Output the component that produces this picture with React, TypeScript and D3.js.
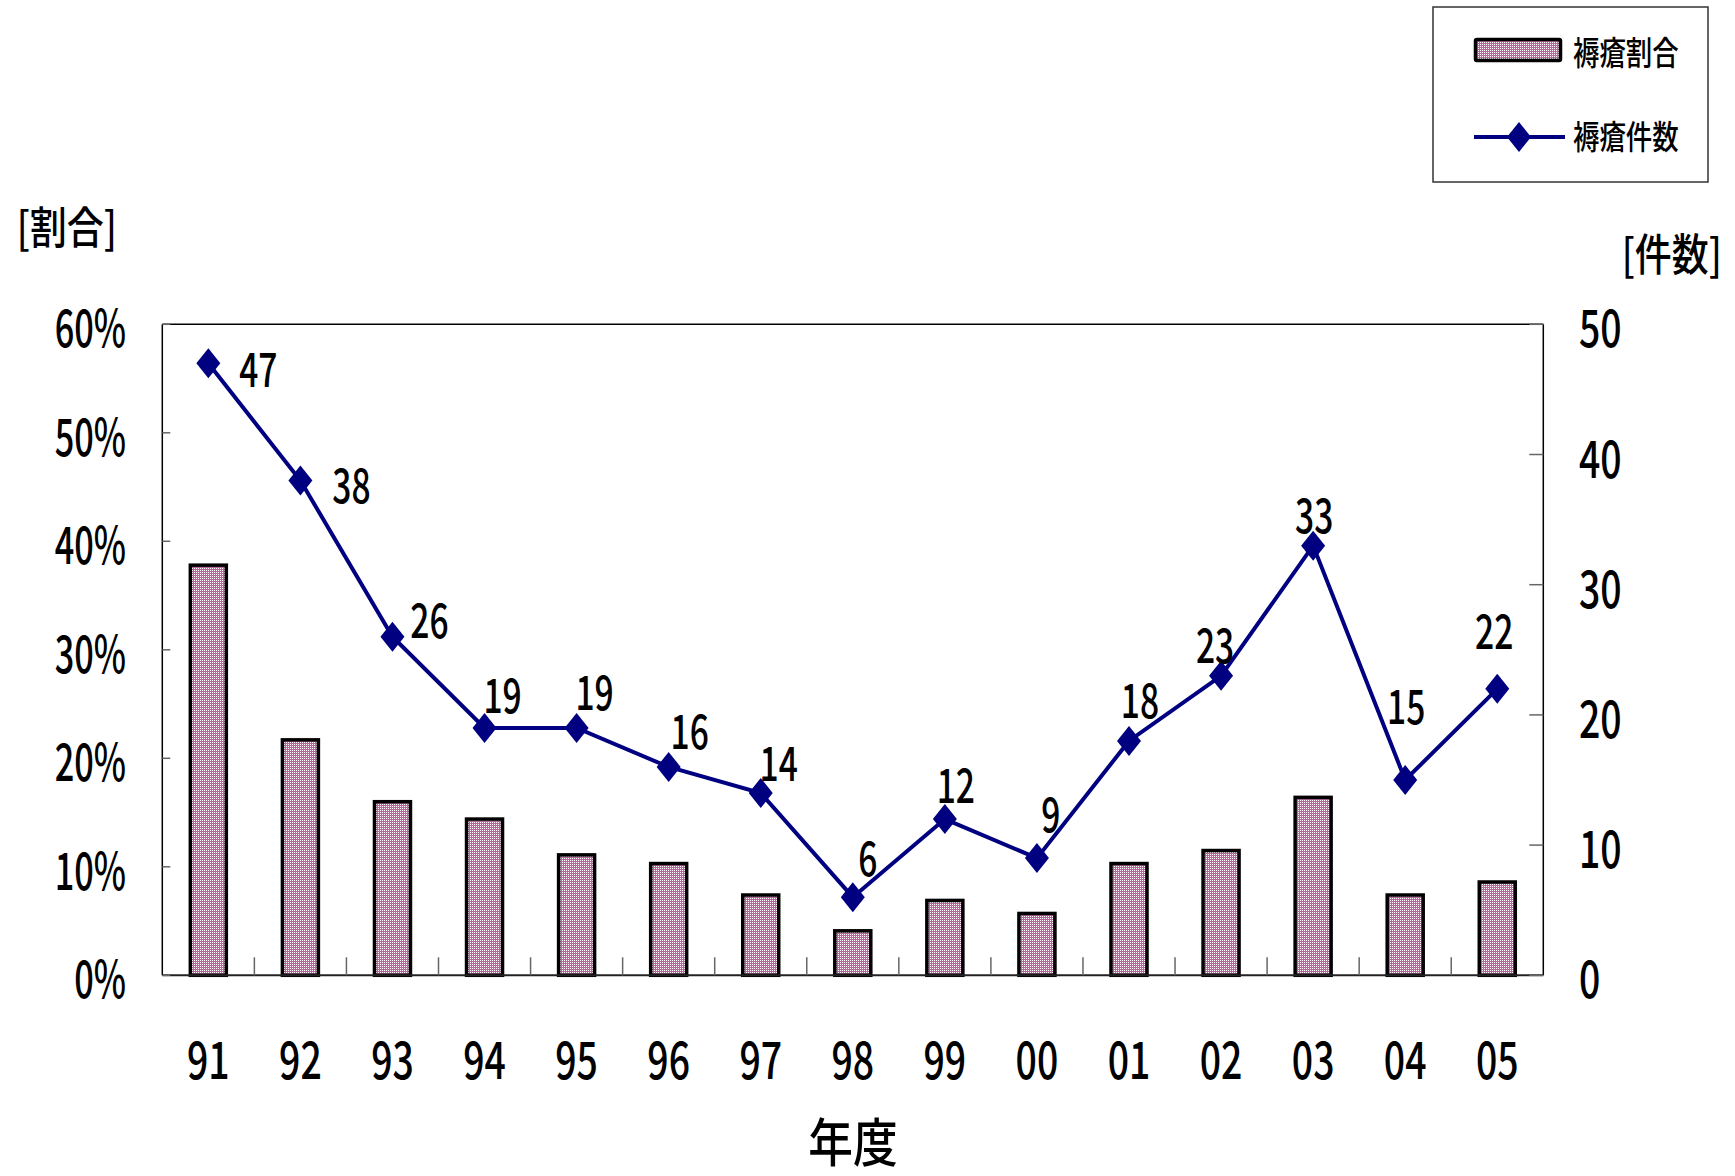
import React from 'react';
import * as d3 from 'd3';

// 年度ごとの褥瘡割合(棒)と褥瘡件数(折れ線)
const years = ['91', '92', '93', '94', '95', '96', '97', '98', '99', '00', '01', '02', '03', '04', '05'];
const ratio = [0.378, 0.217, 0.16, 0.144, 0.111, 0.103, 0.074, 0.041, 0.069, 0.057, 0.103, 0.115, 0.164, 0.074, 0.086];
const counts = [47, 38, 26, 19, 19, 16, 14, 6, 12, 9, 18, 23, 33, 15, 22];
const ratioTicks = [0, 0.1, 0.2, 0.3, 0.4, 0.5, 0.6];
const countTicks = [0, 10, 20, 30, 40, 50];

// label nudges (dx, dy from the marker), as they sit in the original
const labelNudge: [number, number][] = [
  [50, 6], [51, 5], [37, -16], [18, -32], [18, -35], [21, -35], [18, -30], [15, -39],
  [11, -34], [14, -44], [11, -40], [-6, -30], [1, -30], [1, -74], [-3, -57],
];

const W = 1735;
const H = 1176;
const left = 162.3;
const right = 1543.3;
const top = 324.3;
const bottom = 975.3;

const FONT = '"Noto Sans CJK JP", "Noto Sans", sans-serif';
const NAVY = '#000080';

function Txt(props: { x: number; y: number; size: number; sx: number; anchor?: string; children: React.ReactNode }) {
  const { x, y, size, sx, anchor, children } = props;
  return (
    <text
      transform={`translate(${x},${y}) scale(${sx},1)`}
      fontSize={size}
      fontFamily={FONT}
      fontWeight={500}
      textAnchor={anchor || 'start'}
      fill="#000"
    >
      {children}
    </text>
  );
}

const diamond = (cx: number, cy: number) =>
  `M${cx},${cy - 15}L${cx + 12},${cy}L${cx},${cy + 15}L${cx - 12},${cy}Z`;

export default function App() {
  const x = d3.scaleBand().domain(years).range([left, right]);
  const yL = d3.scaleLinear().domain([0, 0.6]).range([bottom, top]);
  const yR = d3.scaleLinear().domain([0, 50]).range([bottom, top]);
  const bw = 36;
  const cx = (d: string) => (x(d) as number) + x.bandwidth() / 2;

  const pts: [number, number][] = years.map((d, i) => [cx(d), yR(counts[i])]);
  const line = d3.line()(pts) as string;

  return (
    <svg width={W} height={H} style={{ position: 'absolute', left: 0, top: 0, background: '#fff' }}>
      <defs>
        <pattern id="dots" width="2" height="2" patternUnits="userSpaceOnUse">
          <rect width="2" height="2" fill="#b36a9b" />
          <rect width="1" height="1" fill="#ffffff" />
        </pattern>
      </defs>
      <rect width={W} height={H} fill="#fff" />

      {/* bars */}
      {years.map((d, i) => (
        <rect
          key={d}
          x={cx(d) - bw / 2}
          y={yL(ratio[i])}
          width={bw}
          height={bottom - yL(ratio[i])}
          fill="url(#dots)"
          stroke="#000"
          strokeWidth={3.5}
        />
      ))}

      {/* frame */}
      <line x1={left} y1={top} x2={right} y2={top} stroke="#000" strokeWidth={1.5} />
      <line x1={right} y1={top} x2={right} y2={bottom} stroke="#000" strokeWidth={1.5} />
      <line x1={left} y1={top} x2={left} y2={bottom} stroke="#000" strokeWidth={1.5} />
      <line x1={left} y1={bottom} x2={right} y2={bottom} stroke="#222" strokeWidth={2} />

      {/* category ticks */}
      {years.slice(1).map((d) => (
        <line key={d} x1={x(d)} x2={x(d)} y1={bottom - 18} y2={bottom} stroke="#666" strokeWidth={1.5} />
      ))}

      {/* left axis */}
      {ratioTicks.map((t) => (
        <g key={t}>
          <line x1={left} x2={left + 8} y1={yL(t)} y2={yL(t)} stroke="#666" strokeWidth={1.5} />
          <Txt x={126} y={yL(t) + 23} size={52} sx={0.66} anchor="end">
            {d3.format('.0%')(t)}
          </Txt>
        </g>
      ))}

      {/* right axis */}
      {countTicks.map((t) => (
        <g key={t}>
          <line x1={right - 14} x2={right} y1={yR(t)} y2={yR(t)} stroke="#666" strokeWidth={1.5} />
          <Txt x={1579} y={yR(t) + 23} size={52} sx={0.72}>
            {t}
          </Txt>
        </g>
      ))}

      {/* x labels */}
      {years.map((d) => (
        <Txt key={d} x={cx(d)} y={1079} size={52} sx={0.72} anchor="middle">
          {d}
        </Txt>
      ))}

      {/* count line */}
      <path d={line} fill="none" stroke={NAVY} strokeWidth={4} />
      {pts.map(([px, py], i) => (
        <path key={i} d={diamond(px, py)} fill={NAVY} />
      ))}
      {pts.map(([px, py], i) => (
        <Txt key={i} x={px + labelNudge[i][0]} y={py + labelNudge[i][1] + 17.5} size={48} sx={0.7} anchor="middle">
          {counts[i]}
        </Txt>
      ))}

      {/* axis titles */}
      <Txt x={16.7} y={244} size={44} sx={0.84}>[割合]</Txt>
      <Txt x={1621.7} y={271} size={44} sx={0.84}>[件数]</Txt>
      <Txt x={853} y={1162} size={52} sx={0.86} anchor="middle">年度</Txt>

      {/* legend */}
      <rect x={1433} y={7} width={275} height={175} fill="#fff" stroke="#333" strokeWidth={1.5} />
      <rect x={1475.5} y={39.5} width={85} height={21} fill="url(#dots)" stroke="#000" strokeWidth={3.5} rx={1.5} />
      <Txt x={1573} y={65} size={33} sx={0.8}>褥瘡割合</Txt>
      <line x1={1474} x2={1565} y1={137} y2={137} stroke={NAVY} strokeWidth={4} />
      <path d={diamond(1519, 137)} fill={NAVY} />
      <Txt x={1573} y={149} size={33} sx={0.8}>褥瘡件数</Txt>
    </svg>
  );
}
